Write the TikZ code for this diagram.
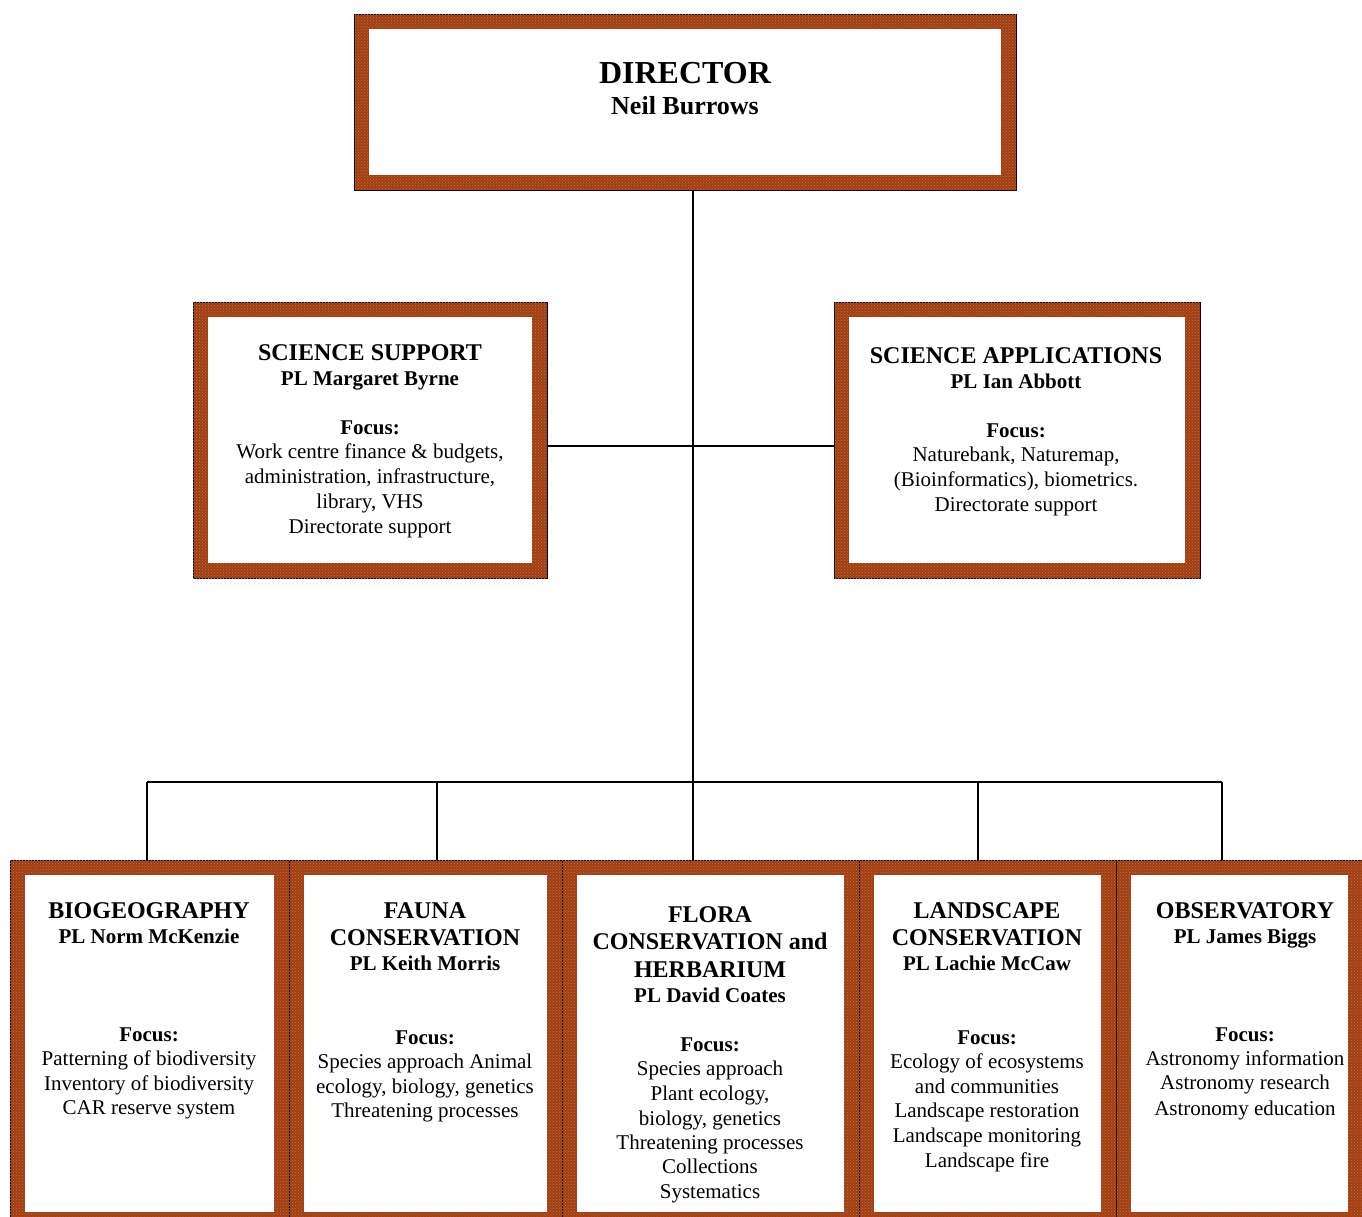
\documentclass[tikz,border=0pt]{standalone}
\usepackage{fontspec}
\setmainfont{Liberation Serif}
\usetikzlibrary{patterns}
\definecolor{rust}{RGB}{160,62,18}
\definecolor{rustlight}{RGB}{200,112,72}
\tikzset{
  frame/.style={draw=black, line width=1pt, fill=rust, inner sep=0pt, outer sep=0pt,
    postaction={pattern=crosshatch dots, pattern color=rustlight}},
  conn/.style={draw=black, line width=1.6pt},
  ttl/.style={anchor=base, inner sep=0pt, font=\fontsize{24pt}{27pt}\selectfont\bfseries},
  pl/.style={anchor=base, inner sep=0pt, font=\fontsize{21pt}{25pt}\selectfont\bfseries},
  bd/.style={anchor=base, inner sep=0pt, font=\fontsize{21pt}{25pt}\selectfont},
}
\newcommand\inner[1]{\fill[white] ([shift={(15pt,-15pt)}]#1.north west) rectangle ([shift={(-15pt,15pt)}]#1.south east);}
\newcommand\ltxt[5]{\node[#4] (#1) at (#2,#3) {#5};}
\begin{document}
\begin{tikzpicture}[x=1pt,y=-1pt]
\clip (0,0) rectangle (1362,1216);
\fill[white] (0,0) rectangle (1362,1216);
% boxes
\node[frame, minimum width=662pt, minimum height=176pt] (dir) at (685,102) {};
\node[frame, minimum width=354pt, minimum height=276pt] (ss) at (370,440) {};
\node[frame, minimum width=366pt, minimum height=276pt] (sa) at (1017,440) {};
\node[frame, minimum width=279pt, minimum height=367pt] (b1) at (149.5,1043.5) {};
\node[frame, minimum width=273pt, minimum height=367pt] (b2) at (425.5,1043.5) {};
\node[frame, minimum width=297pt, minimum height=367pt] (b3) at (710.5,1043.5) {};
\node[frame, minimum width=257pt, minimum height=367pt] (b4) at (987.5,1043.5) {};
\node[frame, minimum width=247pt, minimum height=367pt] (b5) at (1239.5,1043.5) {};
\inner{dir}\inner{ss}\inner{sa}\inner{b1}\inner{b2}\inner{b3}\inner{b4}\inner{b5}
% connectors
\coordinate (spine) at (693,782);
\coordinate (mid) at (693,446);
\coordinate (k1) at (147,782);
\coordinate (k2) at (437,782);
\coordinate (k4) at (978,782);
\coordinate (k5) at (1222,782);
\draw[conn] (dir.south -| spine) -- (spine);
\draw[conn] (ss.east |- mid) -- (sa.west |- mid);
\draw[conn] (k1) -- (k5);
\draw[conn] (k1) -- (k1 |- b1.north);
\draw[conn] (k2) -- (k2 |- b2.north);
\draw[conn] (spine) -- (spine |- b3.north);
\draw[conn] (k4) -- (k4 |- b4.north);
\draw[conn] (k5) -- (k5 |- b5.north);
% director
\node[anchor=base, inner sep=0pt, font=\fontsize{32pt}{36pt}\selectfont\bfseries] (d1) at (685,83) {DIRECTOR};
\node[anchor=base, inner sep=0pt, font=\fontsize{26pt}{30pt}\selectfont\bfseries] (d2) at (685,114) {Neil Burrows};
% science support
\ltxt{s1}{370}{360}{ttl}{SCIENCE SUPPORT}
\ltxt{s2}{370}{385}{pl}{PL Margaret Byrne}
\ltxt{s3}{370}{434}{pl}{Focus:}
\ltxt{s4}{370}{458}{bd}{Work centre finance \& budgets,}
\ltxt{s5}{370}{483}{bd}{administration, infrastructure,}
\ltxt{s6}{370}{508}{bd}{library, VHS}
\ltxt{s7}{370}{533}{bd}{Directorate support}
% science applications
\ltxt{a1}{1016}{363}{ttl}{SCIENCE APPLICATIONS}
\ltxt{a2}{1016}{388}{pl}{PL Ian Abbott}
\ltxt{a3}{1016}{437}{pl}{Focus:}
\ltxt{a4}{1016}{461}{bd}{Naturebank, Naturemap,}
\ltxt{a5}{1016}{486}{bd}{(Bioinformatics), biometrics.}
\ltxt{a6}{1016}{511}{bd}{Directorate support}
% biogeography
\ltxt{p1}{149}{918}{ttl}{BIOGEOGRAPHY}
\ltxt{p2}{149}{943}{pl}{PL Norm McKenzie}
\ltxt{p3}{149}{1041}{pl}{Focus:}
\ltxt{p4}{149}{1065}{bd}{Patterning of biodiversity}
\ltxt{p5}{149}{1090}{bd}{Inventory of biodiversity}
\ltxt{p6}{149}{1114}{bd}{CAR reserve system}
% fauna
\ltxt{f1}{425}{918}{ttl}{FAUNA}
\ltxt{f2}{425}{945}{ttl}{CONSERVATION}
\ltxt{f3}{425}{970}{pl}{PL Keith Morris}
\ltxt{f4}{425}{1044}{pl}{Focus:}
\ltxt{f5}{425}{1068}{bd}{Species approach Animal}
\ltxt{f6}{425}{1093}{bd}{ecology, biology, genetics}
\ltxt{f7}{425}{1117}{bd}{Threatening processes}
% flora
\ltxt{h1}{710}{922}{ttl}{FLORA}
\ltxt{h2}{710}{949}{ttl}{CONSERVATION and}
\ltxt{h3}{710}{977}{ttl}{HERBARIUM}
\ltxt{h4}{710}{1002}{pl}{PL David Coates}
\ltxt{h5}{710}{1051}{pl}{Focus:}
\ltxt{h6}{710}{1075}{bd}{Species approach}
\ltxt{h7}{710}{1100}{bd}{Plant ecology,}
\ltxt{h8}{710}{1125}{bd}{biology, genetics}
\ltxt{h9}{710}{1149}{bd}{Threatening processes}
\ltxt{h10}{710}{1173}{bd}{Collections}
\ltxt{h11}{710}{1198}{bd}{Systematics}
% landscape
\ltxt{l1}{987}{918}{ttl}{LANDSCAPE}
\ltxt{l2}{987}{945}{ttl}{CONSERVATION}
\ltxt{l3}{987}{970}{pl}{PL Lachie McCaw}
\ltxt{l4}{987}{1044}{pl}{Focus:}
\ltxt{l5}{987}{1068}{bd}{Ecology of ecosystems}
\ltxt{l6}{987}{1093}{bd}{and communities}
\ltxt{l7}{987}{1117}{bd}{Landscape restoration}
\ltxt{l8}{987}{1142}{bd}{Landscape monitoring}
\ltxt{l9}{987}{1167}{bd}{Landscape fire}
% observatory
\ltxt{o1}{1245}{918}{ttl}{OBSERVATORY}
\ltxt{o2}{1245}{943}{pl}{PL James Biggs}
\ltxt{o3}{1245}{1041}{pl}{Focus:}
\ltxt{o4}{1245}{1065}{bd}{Astronomy information}
\ltxt{o5}{1245}{1089}{bd}{Astronomy research}
\ltxt{o6}{1245}{1115}{bd}{Astronomy education}
\end{tikzpicture}
\end{document}
